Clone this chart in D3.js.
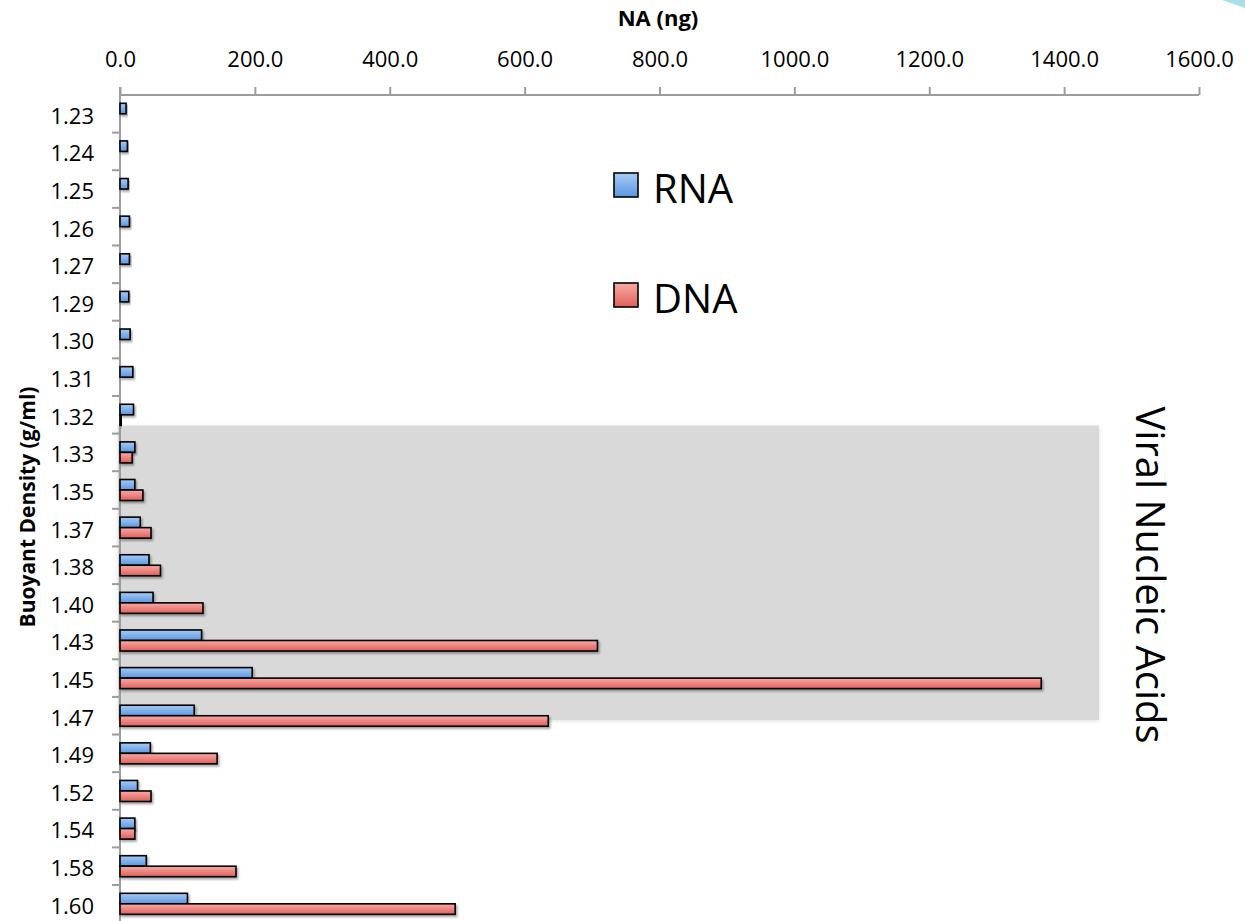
<!DOCTYPE html>
<html>
<head>
<meta charset="utf-8">
<script src="https://cdn.jsdelivr.net/npm/d3@7"></script>
<style>
  html, body { margin: 0; padding: 0; background: #fff; }
  svg { display: block; }
</style>
</head>
<body>
<svg id="chart" width="1245" height="921"></svg>
<script>
// ---- data ----
const categories = ["1.23","1.24","1.25","1.26","1.27","1.29","1.30","1.31","1.32","1.33","1.35","1.37","1.38","1.40","1.43","1.45","1.47","1.49","1.52","1.54","1.58","1.60"];
const seriesNames = ["RNA", "DNA"];
const rnaValues = [9, 11, 12, 14, 14, 13, 15, 19, 20, 22, 22, 30, 43, 49, 121, 196, 110, 45, 26, 22, 39, 100];
const dnaValues = [0, 0, 0, 0, 0, 0, 0, 0, 2, 18, 34, 46, 60, 123, 708, 1366, 635, 144, 46, 22, 172, 497];
const xTicks = [0, 200, 400, 600, 800, 1000, 1200, 1400, 1600];
const highlightCats = ["1.33", "1.47"]; // shaded "Viral Nucleic Acids" range

const svg = d3.select("#chart");
const FONT = "'Open Sans', 'DejaVu Sans', sans-serif";

// ---- defs ----
const defs = svg.append("defs");
function grad(id, top, bottom) {
  const g = defs.append("linearGradient").attr("id", id).attr("x1", 0).attr("y1", 0).attr("x2", 0).attr("y2", 1);
  g.append("stop").attr("offset", "0%").attr("stop-color", top);
  g.append("stop").attr("offset", "100%").attr("stop-color", bottom);
}
grad("gRNA", "#a7cbf5", "#5a97e0");
grad("gDNA", "#f9aaa6", "#de605b");
const f = defs.append("filter").attr("id", "shadow").attr("x", "-20%").attr("y", "-50%").attr("width", "140%").attr("height", "220%");
f.append("feDropShadow").attr("dx", 1.5).attr("dy", 2).attr("stdDeviation", 1.3).attr("flood-color", "#000").attr("flood-opacity", 0.35);
const f2 = defs.append("filter").attr("id", "soft").attr("x", "-5%").attr("y", "-5%").attr("width", "110%").attr("height", "110%");
f2.append("feDropShadow").attr("dx", 0).attr("dy", 1).attr("stdDeviation", 2).attr("flood-color", "#000").attr("flood-opacity", 0.12);

// ---- scales ----
const x = d3.scaleLinear().domain([0, 1600]).range([120, 1199]);
const y = d3.scaleBand().domain(categories).range([95, 95 + 37.62 * categories.length]).padding(0);
const ySub = d3.scaleBand().domain(seriesNames).range([0, y.bandwidth()]).paddingInner(0).paddingOuter(0.79);

// decorative corner shape
svg.append("path")
  .attr("d", "M1222,0 Q1236,5 1245,8 L1245,0 Z")
  .attr("fill", "#a9dfe6");

// ---- shaded region ----
const shadeTop = y(highlightCats[0]) - 8;
const shadeBottom = y(highlightCats[1]) + 23;
svg.append("rect")
  .attr("x", 118)
  .attr("y", shadeTop)
  .attr("width", 1099 - 118)
  .attr("height", shadeBottom - shadeTop)
  .attr("fill", "#d9d9d9")
  .attr("filter", "url(#soft)");

// ---- axes ----
const axisColor = "#9c9c9c";
const xAxis = svg.append("g").attr("transform", "translate(0,95)")
  .call(d3.axisTop(x).tickValues(xTicks).tickFormat(d3.format(".1f")).tickSize(8).tickPadding(20));
xAxis.select(".domain").attr("stroke", axisColor).attr("stroke-width", 2).attr("d", `M${x(0)},0H${x(1600)}`);
xAxis.selectAll(".tick line").attr("stroke", axisColor).attr("stroke-width", 2);
xAxis.selectAll(".tick text").attr("font-family", FONT).attr("font-size", 22).attr("fill", "#000");

const yAxis = svg.append("g").attr("transform", `translate(${x(0)},0)`)
  .call(d3.axisLeft(y).tickSize(0).tickPadding(26));
yAxis.select(".domain").attr("stroke", axisColor).attr("stroke-width", 2).attr("d", `M0,87V921`);
yAxis.selectAll(".tick text").attr("font-family", FONT).attr("font-size", 22).attr("fill", "#000").attr("dy", "0.45em");
// category boundary ticks
svg.append("g").selectAll("line")
  .data(categories.slice(1))
  .join("line")
  .attr("x1", x(0) - 8).attr("x2", x(0))
  .attr("y1", d => y(d)).attr("y2", d => y(d))
  .attr("stroke", axisColor).attr("stroke-width", 2);

// ---- bars ----
const rows = categories.map((c, i) => ({ cat: c, RNA: rnaValues[i], DNA: dnaValues[i] }));
const gBars = svg.append("g");
seriesNames.forEach(s => {
  gBars.append("g").selectAll("rect")
    .data(rows.filter(r => r[s] > 0))
    .join("rect")
    .attr("x", x(0))
    .attr("y", d => y(d.cat) + ySub(s))
    .attr("width", d => x(d[s]) - x(0))
    .attr("height", ySub.bandwidth())
    .attr("fill", `url(#g${s})`)
    .attr("stroke", "#000")
    .attr("stroke-width", 1.6)
    .attr("filter", "url(#shadow)");
});

// ---- titles ----
svg.append("text")
  .attr("x", 658).attr("y", 26)
  .attr("text-anchor", "middle")
  .attr("font-family", FONT).attr("font-weight", "bold").attr("font-size", 22)
  .text("NA (ng)");

svg.append("text")
  .attr("transform", "translate(35,507) rotate(-90)")
  .attr("text-anchor", "middle")
  .attr("font-family", FONT).attr("font-weight", "bold").attr("font-size", 21)
  .text("Buoyant Density (g/ml)");

svg.append("text")
  .attr("transform", "translate(1136,575) rotate(90)")
  .attr("text-anchor", "middle")
  .attr("font-family", FONT).attr("font-weight", 400).attr("font-size", 40)
  .text("Viral Nucleic Acids");

// ---- legend ----
const legend = svg.append("g");
const legendY = { RNA: 173, DNA: 283 };
seriesNames.forEach(s => {
  legend.append("rect")
    .attr("x", 614).attr("y", legendY[s]).attr("width", 24).attr("height", 24)
    .attr("fill", `url(#g${s})`).attr("stroke", "#000").attr("stroke-width", 1.6);
  legend.append("text")
    .attr("x", 653).attr("y", legendY[s] + 30)
    .attr("font-family", FONT).attr("font-size", 40)
    .text(s);
});
</script>
</body>
</html>
